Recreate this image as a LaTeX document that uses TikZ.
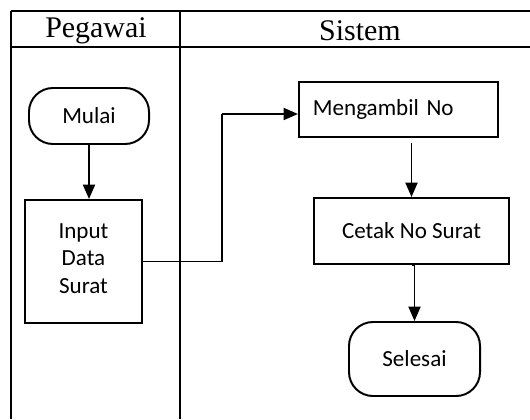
\documentclass[tikz,border=0pt]{standalone}
\usepackage{fontspec}
\setmainfont{Liberation Serif}
\newfontfamily\bodyfont{Carlito}
\usetikzlibrary{arrows.meta}
\tikzset{
	lane/.style={line width=1.8pt},
	flowbox/.style={draw, line width=1.4pt, inner sep=0pt, align=center, font=\bodyfont\fontsize{16.4}{19.6}\selectfont},
	terminal/.style={flowbox, rounded corners=0.6cm},
	flowarrow/.style={line width=1.4pt, -{Triangle[length=0.36cm, width=0.3cm]}},
	flowline/.style={line width=1.4pt}
}

\begin{document}
\begin{tikzpicture}[x=0.025cm, y=-0.025cm]
			%%%%% START %%%%%
			\useasboundingbox (0, 0) rectangle (530, 419);
			
			\draw[lane] (11, 11) -- (530, 11);
			\draw[lane] (11, 47) -- (530, 47);
			\draw[lane] (11, 11) -- (11, 419);
			\draw[lane] (180, 11) -- (180, 419);
			
			\node[font=\fontsize{21.3}{25}\selectfont] (pegawai) at (96, 31) {Pegawai};
			\node[font=\fontsize{21.3}{25}\selectfont] (sistem) at (360, 31) {Sistem};
			
			\node[terminal, minimum width=3cm, minimum height=1.4cm] (mulai) at (89, 116) {Mulai};
			\node[flowbox, minimum width=2.925cm, minimum height=3.075cm, text depth=0.15cm] (input) at (83.5, 261.5) {Input\\Data\\Surat};
			\node[flowbox, minimum width=4.975cm, minimum height=1.375cm, text width=4.275cm, align=left, inner xsep=0.35cm] (ambil) at (398.5, 109.5) {\mbox{Mengambil No}};
			\node[flowbox, minimum width=4.875cm, minimum height=1.65cm] (cetak) at (411.5, 231) {Cetak No Surat};
			\node[terminal, minimum width=3.275cm, minimum height=1.85cm] (selesai) at (414.5, 359) {Selesai};
			
			\coordinate (belok) at (222, 114);
			
			\draw[flowarrow] (mulai.south) -- (mulai.south |- input.north);
			\draw[flowline] (input.east) -| (belok);
			\draw[flowarrow] (belok) -- (belok -| ambil.west);
			\draw[flowarrow] ([yshift=-0.125cm]cetak.north |- ambil.south) -- (cetak.north);
			\draw[flowarrow] (cetak.south) -- (cetak.south -| selesai.north) -- (selesai.north);
			
			%%%%% END %%%%%
		\end{tikzpicture}
\end{document}
